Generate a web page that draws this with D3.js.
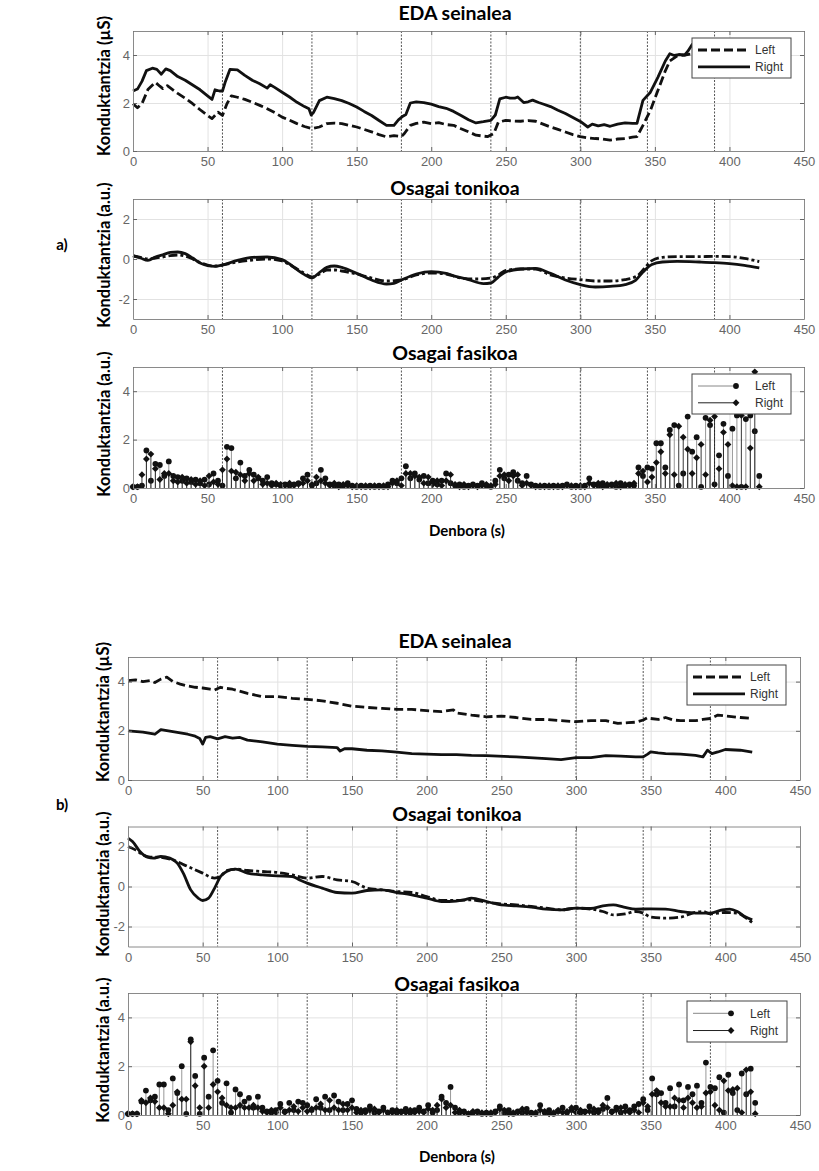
<html>
<head>
<script src="https://d3js.org/d3.v7.min.js"></script>
<style>
  body { margin: 0; background: #fff; }
</style>
</head>
<body>
<div id="chart"></div>
<script>
// ---------------- data ----------------
var xTicks = [0, 50, 100, 150, 200, 250, 300, 350, 400, 450];
var edaTicks = [0, 2, 4];
var tonicTicks = [-2, 0, 2];
var phasicTicks = [0, 2, 4];
// event markers (s)
var events = [60, 120, 180, 240, 300, 345, 390];

// a) EDA signal [time, uS]
var aEdaLeft = [[0,1.97],[3,1.8],[6,1.97],[10,2.56],[15,2.86],[18,2.7],[20,2.6],[23,2.72],[25,2.63],[30,2.4],[35,2.2],[40,1.97],[45,1.72],[50,1.48],[53,1.35],[57,1.62],[60,1.48],[63,1.97],[66,2.3],[70,2.24],[75,2.15],[80,2.03],[85,1.9],[90,1.76],[95,1.6],[100,1.41],[105,1.28],[110,1.14],[115,1.02],[120,0.93],[125,1.0],[130,1.14],[135,1.16],[140,1.14],[145,1.07],[150,1.0],[155,0.9],[160,0.8],[165,0.68],[170,0.59],[175,0.64],[180,0.6],[182,0.73],[186,1.07],[190,1.15],[195,1.2],[200,1.14],[205,1.18],[210,1.1],[215,1.07],[220,0.93],[225,0.8],[230,0.66],[235,0.62],[238,0.6],[242,0.73],[245,1.2],[250,1.28],[255,1.25],[260,1.24],[265,1.27],[270,1.24],[275,1.12],[280,1.0],[285,0.9],[290,0.79],[295,0.68],[300,0.6],[305,0.55],[310,0.52],[315,0.5],[320,0.45],[325,0.5],[330,0.52],[335,0.58],[338,0.6],[342,1.07],[347,1.69],[352,2.52],[357,3.34],[360,3.75],[365,3.96],[370,4.0],[380,4.1],[390,4.15],[400,4.15],[410,4.2],[420,4.2]];
var aEdaRight = [[0,2.5],[3,2.58],[6,2.9],[9,3.35],[13,3.45],[16,3.4],[19,3.2],[22,3.42],[25,3.35],[30,3.1],[35,2.95],[40,2.75],[45,2.55],[50,2.3],[53,2.15],[55,2.55],[58,2.5],[60,2.5],[62,2.9],[65,3.4],[70,3.38],[75,3.15],[80,2.95],[85,2.8],[90,2.62],[92,2.76],[95,2.65],[100,2.45],[105,2.25],[110,2.03],[115,1.85],[118,1.76],[119.5,1.5],[121,1.6],[125,2.1],[130,2.24],[135,2.18],[140,2.1],[145,1.98],[150,1.83],[155,1.65],[160,1.48],[165,1.27],[170,1.07],[175,1.07],[178,1.3],[181,1.45],[183,1.52],[186,2.0],[190,2.05],[195,2.02],[200,1.95],[205,1.85],[210,1.78],[215,1.65],[220,1.48],[225,1.3],[230,1.17],[235,1.22],[240,1.28],[243,1.5],[246,2.17],[250,2.24],[253,2.2],[256,2.2],[258,2.25],[262,2.02],[265,2.05],[268,2.12],[272,2.02],[275,1.96],[280,1.85],[285,1.7],[290,1.56],[295,1.4],[300,1.23],[305,1.0],[308,1.12],[312,1.05],[316,1.1],[320,1.03],[325,1.12],[330,1.17],[335,1.15],[338,1.15],[342,2.11],[347,2.45],[352,3.07],[357,3.75],[360,4.05],[363,3.98],[366,4.02],[370,4.0],[372,4.15],[375,4.44],[380,4.4],[390,4.35],[400,4.3],[410,4.3],[420,4.25]];

// a) tonic component [time, a.u.]
var aTonicLeft = [[0,0.15],[5,0.08],[10,0.0],[15,0.05],[20,0.1],[25,0.17],[30,0.2],[35,0.14],[40,0.0],[45,-0.17],[50,-0.3],[55,-0.35],[60,-0.3],[70,-0.15],[80,-0.05],[90,0.0],[100,-0.1],[105,-0.28],[110,-0.5],[115,-0.72],[120,-0.9],[125,-0.75],[130,-0.55],[135,-0.55],[140,-0.6],[150,-0.75],[160,-0.95],[170,-1.1],[180,-1.05],[190,-0.8],[200,-0.7],[210,-0.75],[220,-0.95],[230,-1.0],[240,-0.95],[245,-0.8],[250,-0.57],[260,-0.5],[270,-0.5],[280,-0.8],[290,-0.95],[300,-1.03],[310,-1.1],[320,-1.1],[330,-1.03],[338,-0.85],[343,-0.47],[348,-0.08],[355,0.08],[365,0.12],[380,0.12],[390,0.13],[400,0.12],[410,0.03],[420,-0.13]];
var aTonicRight = [[0,0.17],[5,0.05],[10,-0.07],[15,0.1],[20,0.21],[25,0.33],[30,0.35],[35,0.27],[40,0.05],[45,-0.2],[50,-0.33],[55,-0.37],[60,-0.3],[70,-0.07],[80,0.08],[90,0.1],[100,-0.03],[105,-0.25],[110,-0.53],[115,-0.78],[120,-0.95],[125,-0.68],[130,-0.42],[135,-0.35],[140,-0.42],[150,-0.72],[160,-1.05],[170,-1.25],[175,-1.22],[180,-1.05],[190,-0.75],[200,-0.63],[210,-0.72],[215,-0.84],[225,-1.03],[235,-1.23],[240,-1.2],[245,-0.9],[250,-0.65],[260,-0.5],[270,-0.47],[280,-0.72],[290,-1.05],[300,-1.28],[310,-1.4],[320,-1.37],[330,-1.28],[337,-1.07],[342,-0.65],[348,-0.27],[355,-0.15],[365,-0.12],[380,-0.15],[390,-0.18],[400,-0.23],[410,-0.32],[420,-0.45]];

// phasic components sampled every 3 s
var phasicTime = [0,3,6,9,12,15,18,21,24,27,
  30,33,36,39,42,45,48,51,54,57,
  60,63,66,69,72,75,78,81,84,87,
  90,93,96,99,102,105,108,111,114,117,
  120,123,126,129,132,135,138,141,144,147,
  150,153,156,159,162,165,168,171,174,177,
  180,183,186,189,192,195,198,201,204,207,
  210,213,216,219,222,225,228,231,234,237,
  240,243,246,249,252,255,258,261,264,267,
  270,273,276,279,282,285,288,291,294,297,
  300,303,306,309,312,315,318,321,324,327,
  330,333,336,339,342,345,348,351,354,357,
  360,363,366,369,372,375,378,381,384,387,
  390,393,396,399,402,405,408,411,414,417,
  420];
var aPhasicLeft = [0.05,0.05,0.1,1.55,0.3,1.0,0.95,0.5,1.1,0.5,
  0.45,0.3,0.4,0.25,0.35,0.2,0.35,0.15,0.6,0.3,
  0.1,1.7,1.65,0.4,1.05,0.5,0.75,0.55,0.4,0.3,
  0.45,0.2,0.15,0.1,0.15,0.1,0.15,0.2,0.4,0.55,
  0.1,0.2,0.75,0.4,0.15,0.1,0.15,0.1,0.2,0.1,
  0.05,0.1,0.05,0.1,0.05,0.1,0.05,0.15,0.3,0.2,
  0.4,0.9,0.4,0.6,0.35,0.5,0.2,0.3,0.15,0.3,
  0.6,0.2,0.1,0.15,0.05,0.1,0.15,0.1,0.2,0.1,
  0.05,0.3,0.75,0.4,0.55,0.65,0.3,0.2,0.5,0.15,
  0.1,0.05,0.1,0.05,0.1,0.05,0.1,0.15,0.05,0.1,
  0.05,0.1,0.4,0.15,0.1,0.2,0.1,0.15,0.05,0.2,
  0.1,0.15,0.1,0.85,0.5,0.85,0.8,1.85,1.85,0.85,
  2.4,2.6,0.1,0.6,2.95,1.5,2.1,0.05,2.9,2.6,
  0.15,1.35,2.65,0.5,2.45,3.0,0.05,2.85,3.0,2.35,
  0.5];
var aPhasicRight = [0.05,0.05,0.55,1.2,1.4,0.8,0.35,0.6,0.6,0.3,
  0.25,0.45,0.2,0.35,0.15,0.3,0.1,0.5,0.25,0.15,
  0.75,1.2,0.7,0.65,0.55,0.3,0.6,0.3,0.45,0.15,
  0.2,0.1,0.2,0.15,0.1,0.2,0.1,0.15,0.2,0.3,
  0.15,0.45,0.3,0.2,0.1,0.2,0.05,0.15,0.1,0.05,
  0.1,0.05,0.1,0.05,0.1,0.05,0.1,0.05,0.2,0.3,
  0.1,0.6,0.6,0.5,0.45,0.2,0.45,0.15,0.3,0.1,
  0.3,0.55,0.15,0.05,0.15,0.05,0.1,0.05,0.1,0.15,
  0.1,0.15,0.5,0.55,0.3,0.5,0.55,0.1,0.2,0.1,
  0.05,0.1,0.05,0.1,0.05,0.1,0.05,0.1,0.1,0.05,
  0.1,0.05,0.2,0.1,0.2,0.05,0.15,0.1,0.2,0.05,
  0.15,0.1,0.2,0.6,0.7,0.25,0.45,1.05,1.5,0.6,
  2.2,0.55,2.55,2.1,1.6,0.6,1.25,1.8,0.55,2.8,
  2.95,0.8,2.3,1.8,0.1,0.05,3.0,0.05,1.65,4.8,
  0.05];

// b) EDA signal
var bEdaLeft = [[0,4.04],[5,4.07],[10,4.0],[15,4.04],[18,3.96],[22,4.1],[26,4.18],[30,4.0],[35,3.9],[40,3.82],[45,3.77],[50,3.74],[55,3.69],[58,3.66],[62,3.77],[65,3.73],[70,3.69],[80,3.52],[90,3.39],[100,3.39],[110,3.32],[120,3.28],[130,3.22],[140,3.12],[150,3.0],[160,2.95],[170,2.91],[180,2.87],[190,2.87],[200,2.82],[210,2.78],[218,2.85],[220,2.73],[230,2.64],[240,2.57],[250,2.6],[260,2.54],[270,2.46],[280,2.46],[290,2.41],[300,2.37],[310,2.41],[320,2.41],[328,2.3],[335,2.33],[340,2.35],[345,2.44],[348,2.54],[350,2.5],[355,2.46],[360,2.54],[365,2.44],[370,2.41],[380,2.41],[385,2.46],[390,2.5],[395,2.64],[400,2.6],[410,2.54],[418,2.5]];
var bEdaRight = [[0,2.0],[10,1.95],[18,1.86],[22,2.05],[28,1.99],[35,1.92],[40,1.86],[45,1.78],[48,1.69],[50,1.46],[52,1.73],[55,1.76],[60,1.67],[65,1.76],[70,1.7],[75,1.73],[80,1.62],[90,1.55],[100,1.46],[110,1.41],[120,1.37],[130,1.35],[140,1.32],[142,1.18],[145,1.27],[150,1.27],[160,1.21],[170,1.18],[180,1.13],[190,1.07],[200,1.05],[210,1.03],[220,1.03],[230,1.0],[240,0.99],[260,0.94],[280,0.87],[290,0.83],[300,0.91],[310,0.91],[320,0.99],[330,0.97],[340,0.94],[345,0.94],[348,1.05],[350,1.14],[355,1.1],[360,1.07],[370,1.05],[380,1.0],[385,0.94],[388,1.21],[391,1.07],[395,1.14],[400,1.24],[410,1.21],[418,1.13]];

// b) tonic component
var bTonicLeft = [[0,2.0],[5,1.83],[10,1.58],[15,1.47],[20,1.47],[30,1.33],[40,1.0],[50,0.67],[58,0.42],[62,0.5],[66,0.8],[72,0.87],[80,0.8],[90,0.75],[100,0.7],[110,0.58],[120,0.42],[130,0.5],[140,0.33],[150,0.25],[160,-0.08],[170,-0.17],[180,-0.25],[190,-0.3],[200,-0.5],[210,-0.7],[220,-0.7],[230,-0.67],[240,-0.78],[250,-0.87],[260,-0.92],[270,-1.0],[280,-1.08],[290,-1.17],[300,-1.08],[310,-1.13],[318,-1.25],[325,-1.42],[333,-1.37],[340,-1.25],[345,-1.33],[350,-1.53],[360,-1.58],[370,-1.53],[378,-1.33],[385,-1.25],[390,-1.37],[400,-1.3],[408,-1.33],[413,-1.53],[418,-1.8]];
var bTonicRight = [[0,2.42],[3,2.25],[8,1.75],[13,1.47],[17,1.42],[22,1.5],[28,1.42],[33,1.17],[37,0.67],[42,-0.17],[47,-0.58],[50,-0.7],[54,-0.58],[58,-0.08],[62,0.5],[66,0.75],[72,0.87],[80,0.67],[90,0.58],[100,0.53],[110,0.5],[115,0.33],[120,0.17],[130,-0.08],[140,-0.3],[150,-0.33],[160,-0.2],[170,-0.17],[180,-0.3],[190,-0.42],[200,-0.58],[210,-0.75],[215,-0.75],[225,-0.67],[230,-0.58],[240,-0.75],[250,-0.92],[260,-0.97],[270,-1.03],[280,-1.13],[290,-1.17],[300,-1.08],[310,-1.1],[318,-0.97],[325,-0.92],[332,-1.03],[340,-1.13],[350,-1.12],[360,-1.13],[370,-1.25],[380,-1.33],[390,-1.33],[398,-1.17],[403,-1.13],[408,-1.25],[413,-1.5],[418,-1.67]];

// b) phasic component (same 3 s grid)
var bPhasicLeft = [0.05,0.05,0.05,0.55,1.0,0.6,0.75,1.25,1.25,0.2,
  1.5,0.9,2.0,0.05,3.1,1.6,0.05,2.35,0.75,2.65,
  1.4,0.5,1.3,0.1,1.05,0.85,0.55,0.7,0.3,0.75,
  0.3,0.15,0.1,0.2,0.45,0.15,0.5,0.2,0.55,0.5,
  0.4,0.2,0.65,0.3,0.75,0.2,0.8,0.55,0.2,0.45,
  0.6,0.25,0.1,0.2,0.35,0.1,0.15,0.3,0.1,0.2,
  0.1,0.15,0.25,0.1,0.2,0.3,0.15,0.4,0.1,0.2,
  0.75,0.5,1.15,0.3,0.1,0.15,0.05,0.1,0.15,0.05,
  0.1,0.05,0.15,0.35,0.1,0.2,0.05,0.15,0.1,0.25,
  0.1,0.05,0.4,0.1,0.2,0.05,0.15,0.3,0.1,0.2,
  0.3,0.1,0.15,0.35,0.1,0.2,0.25,0.7,0.15,0.3,
  0.1,0.35,0.2,0.35,0.45,0.65,0.2,1.5,0.85,0.9,
  0.5,1.1,0.35,1.25,0.6,1.15,0.85,1.2,0.5,2.15,
  1.15,1.1,1.55,0.1,1.65,0.9,0.2,1.7,0.85,1.9,
  0.5];
var bPhasicRight = [0.05,0.05,0.05,0.6,0.5,0.7,0.55,0.3,0.3,0.05,
  0.4,0.95,0.65,0.65,3.0,1.2,0.3,2.0,0.3,1.25,
  0.95,0.7,0.4,0.3,0.3,0.4,0.3,0.3,0.4,0.3,
  0.15,0.1,0.2,0.1,0.3,0.1,0.2,0.35,0.15,0.3,
  0.15,0.25,0.3,0.45,0.2,0.6,0.3,0.2,0.45,0.2,
  0.3,0.1,0.2,0.1,0.2,0.25,0.1,0.2,0.1,0.1,
  0.2,0.1,0.1,0.2,0.1,0.15,0.1,0.25,0.2,0.4,
  0.65,0.3,0.4,0.1,0.2,0.1,0.05,0.15,0.1,0.1,
  0.05,0.1,0.1,0.25,0.2,0.05,0.1,0.1,0.25,0.1,
  0.05,0.1,0.2,0.15,0.05,0.1,0.2,0.1,0.15,0.3,
  0.1,0.2,0.1,0.15,0.25,0.1,0.4,0.3,0.1,0.2,
  0.3,0.15,0.1,0.2,0.1,0.5,0.35,0.85,1.0,0.5,
  0.35,0.35,0.7,0.6,0.3,0.7,0.5,0.3,0.35,0.9,
  0.95,0.4,0.2,1.4,1.0,1.05,1.1,0.1,1.85,0.95,
  0.05];

[aPhasicLeft, aPhasicRight, bPhasicLeft, bPhasicRight].forEach(function(a, i) {
  if (a.length !== phasicTime.length) throw new Error("phasic array " + i + " has " + a.length);
});

// ---------------- drawing ----------------
var W = 819, H = 1171;
var svg = d3.select("#chart").append("svg")
  .attr("width", W).attr("height", H)
  .style("font-family", "'Liberation Sans', Arial, sans-serif");
svg.append("rect").attr("width", W).attr("height", H).attr("fill", "#fff");

var boldFont = "Lato, 'Open Sans', sans-serif";

// build one matlab-style axes box
function panel(p) {
  var x = d3.scaleLinear().domain([0, 450]).range([p.x0, p.x1]);
  var y = d3.scaleLinear().domain(p.yDomain).range([p.bottom, p.top]);
  var h = p.bottom - p.top, w = p.x1 - p.x0;
  var g = svg.append("g");

  // grid
  g.append("g").attr("transform", "translate(0," + p.bottom + ")")
    .call(d3.axisBottom(x).tickValues(xTicks).tickSize(-h).tickFormat(""))
    .call(function(s) { s.select(".domain").remove(); })
    .selectAll("line").attr("stroke", "#e2e2e2");
  g.append("g").attr("transform", "translate(" + p.x0 + ",0)")
    .call(d3.axisLeft(y).tickValues(p.yTicks).tickSize(-w).tickFormat(""))
    .call(function(s) { s.select(".domain").remove(); })
    .selectAll("line").attr("stroke", "#e2e2e2");

  // event markers
  g.append("g").selectAll("line").data(events).join("line")
    .attr("x1", function(d) { return x(d); }).attr("x2", function(d) { return x(d); })
    .attr("y1", p.top).attr("y2", p.bottom)
    .attr("stroke", "#555").attr("stroke-width", 1)
    .attr("stroke-dasharray", "2,1.5");

  var data = g.append("g");

  // frame + inward ticks on all four sides
  var ax = g.append("g").attr("class", "axes");
  ax.append("g").attr("transform", "translate(0," + p.bottom + ")")
    .call(d3.axisBottom(x).tickValues(xTicks).tickSizeInner(-4).tickSizeOuter(0).tickPadding(6));
  ax.append("g").attr("transform", "translate(0," + p.top + ")")
    .call(d3.axisTop(x).tickValues(xTicks).tickSizeInner(-4).tickSizeOuter(0).tickFormat(""));
  ax.append("g").attr("transform", "translate(" + p.x0 + ",0)")
    .call(d3.axisLeft(y).tickValues(p.yTicks).tickSizeInner(-4).tickSizeOuter(0).tickPadding(3)
      .tickFormat(function(d) { return String(d); }));
  ax.append("g").attr("transform", "translate(" + p.x1 + ",0)")
    .call(d3.axisRight(y).tickValues(p.yTicks).tickSizeInner(-4).tickSizeOuter(0).tickFormat(""));
  ax.selectAll(".domain").attr("stroke", "#8a8a8a");
  ax.selectAll(".tick line").attr("stroke", "#666");
  ax.selectAll(".tick text").attr("fill", "#666").style("font-size", "13px")
    .style("font-family", "'Liberation Sans', Arial, sans-serif");

  // title
  svg.append("text").attr("x", p.titleX).attr("y", p.titleY)
    .attr("text-anchor", "middle")
    .style("font-family", boldFont).style("font-weight", "bold").style("font-size", "19.5px")
    .text(p.title);
  // y label
  svg.append("text")
    .attr("transform", "translate(" + p.labelX + "," + p.labelY + ") rotate(-90)")
    .attr("text-anchor", "middle").attr("dy", "0.35em")
    .style("font-family", boldFont).style("font-weight", "bold").style("font-size", "16.5px")
    .text(p.ylabel);

  return { x: x, y: y, g: data, p: p };
}

function drawLine(pn, pts, dash, curve) {
  var line = d3.line()
    .x(function(d) { return pn.x(d[0]); })
    .y(function(d) { return pn.y(d[1]); })
    .curve(curve || d3.curveLinear);
  pn.g.append("path").datum(pts)
    .attr("d", line).attr("fill", "none")
    .attr("stroke", "#111").attr("stroke-width", 2.8)
    .attr("stroke-linejoin", "round")
    .attr("stroke-dasharray", dash || null);
}

var diamond = d3.symbol().type(d3.symbolDiamond2).size(30);

function drawStems(pn, vals, stemColor, shape) {
  var grp = pn.g.append("g");
  grp.selectAll("line").data(vals).join("line")
    .attr("x1", function(d, i) { return pn.x(phasicTime[i]); })
    .attr("x2", function(d, i) { return pn.x(phasicTime[i]); })
    .attr("y1", pn.y(0))
    .attr("y2", function(d) { return pn.y(d); })
    .attr("stroke", stemColor).attr("stroke-width", 0.9);
  if (shape === "circle") {
    grp.selectAll("circle").data(vals).join("circle")
      .attr("cx", function(d, i) { return pn.x(phasicTime[i]); })
      .attr("cy", function(d) { return pn.y(d); })
      .attr("r", 2.9).attr("fill", "#111");
  } else {
    grp.selectAll("path").data(vals).join("path")
      .attr("d", diamond)
      .attr("transform", function(d, i) { return "translate(" + pn.x(phasicTime[i]) + "," + pn.y(d) + ")"; })
      .attr("fill", "#111");
  }
}

function legend(x, y, w, h, kind, dash) {
  var lg = svg.append("g").attr("transform", "translate(" + x + "," + y + ")");
  lg.append("rect").attr("width", w).attr("height", h)
    .attr("fill", "#fff").attr("stroke", "#444").attr("stroke-width", 1);
  var names = ["Left", "Right"];
  names.forEach(function(n, i) {
    var yy = h * (i === 0 ? 0.3 : 0.72);
    if (kind === "line") {
      lg.append("line").attr("x1", 6).attr("x2", 58).attr("y1", yy).attr("y2", yy)
        .attr("stroke", "#111").attr("stroke-width", 2.8)
        .attr("stroke-dasharray", i === 0 ? dash : null);
      lg.append("text").attr("x", 63).attr("y", yy).attr("dy", "0.35em")
        .style("font-size", "12px").attr("fill", "#333").text(n);
    } else {
      lg.append("line").attr("x1", 6).attr("x2", 44).attr("y1", yy).attr("y2", yy)
        .attr("stroke", i === 0 ? "#888" : "#222").attr("stroke-width", 1);
      if (i === 0) {
        lg.append("circle").attr("cx", 44).attr("cy", yy).attr("r", 2.9).attr("fill", "#111");
      } else {
        lg.append("path").attr("d", diamond).attr("transform", "translate(44," + yy + ")").attr("fill", "#111");
      }
      lg.append("text").attr("x", 63).attr("y", yy).attr("dy", "0.35em")
        .style("font-size", "12px").attr("fill", "#333").text(n);
    }
  });
}

function axisText(x, y, txt, size) {
  svg.append("text").attr("x", x).attr("y", y).attr("text-anchor", "middle")
    .style("font-family", boldFont).style("font-weight", "bold").style("font-size", size)
    .text(txt);
}

// ---- a) ----
var ax0 = 133, ax1 = 804;
var a1 = panel({ x0: ax0, x1: ax1, top: 31, bottom: 151, yDomain: [0, 5], yTicks: edaTicks,
  title: "EDA seinalea", titleX: 455, titleY: 20, ylabel: "Konduktantzia (µS)", labelX: 104, labelY: 86 });
drawLine(a1, aEdaLeft, "9,4");
drawLine(a1, aEdaRight, null);
legend(692, 38, 99, 40, "line", "9,4");

var a2 = panel({ x0: ax0, x1: ax1, top: 199, bottom: 319, yDomain: [-3, 3], yTicks: tonicTicks,
  title: "Osagai tonikoa", titleX: 455, titleY: 195, ylabel: "Konduktantzia (a.u.)", labelX: 104, labelY: 255 });
drawLine(a2, aTonicLeft, "9,3,3,3", d3.curveMonotoneX);
drawLine(a2, aTonicRight, null, d3.curveMonotoneX);

var a3 = panel({ x0: ax0, x1: ax1, top: 367, bottom: 488, yDomain: [0, 5], yTicks: phasicTicks,
  title: "Osagai fasikoa", titleX: 455, titleY: 360, ylabel: "Konduktantzia (a.u.)", labelX: 104, labelY: 424 });
drawStems(a3, aPhasicLeft, "#8c8c8c", "circle");
drawStems(a3, aPhasicRight, "#222", "diamond");
legend(692, 374, 99, 40, "stem");

axisText(467, 536, "Denbora (s)", "15px");
axisText(62, 250, "a)", "15px");

// ---- b) ----
var bx0 = 128, bx1 = 800;
var b1 = panel({ x0: bx0, x1: bx1, top: 657, bottom: 780, yDomain: [0, 5], yTicks: edaTicks,
  title: "EDA seinalea", titleX: 455, titleY: 648, ylabel: "Konduktantzia (µS)", labelX: 103, labelY: 712 });
drawLine(b1, bEdaLeft, "9,4");
drawLine(b1, bEdaRight, null);
legend(687, 665, 99, 40, "line", "9,4");

var b2 = panel({ x0: bx0, x1: bx1, top: 826.5, bottom: 946.5, yDomain: [-3, 3], yTicks: tonicTicks,
  title: "Osagai tonikoa", titleX: 457, titleY: 821, ylabel: "Konduktantzia (a.u.)", labelX: 103, labelY: 884 });
drawLine(b2, bTonicLeft, "9,3,3,3", d3.curveMonotoneX);
drawLine(b2, bTonicRight, null, d3.curveMonotoneX);

var b3 = panel({ x0: bx0, x1: bx1, top: 993, bottom: 1115, yDomain: [0, 5], yTicks: phasicTicks,
  title: "Osagai fasikoa", titleX: 457, titleY: 991, ylabel: "Konduktantzia (a.u.)", labelX: 103, labelY: 1050 });
drawStems(b3, bPhasicLeft, "#8c8c8c", "circle");
drawStems(b3, bPhasicRight, "#222", "diamond");
legend(687, 1001, 100, 41, "stem");

axisText(457, 1162, "Denbora (s)", "15px");
axisText(62, 810, "b)", "15px");
</script>
</body>
</html>
